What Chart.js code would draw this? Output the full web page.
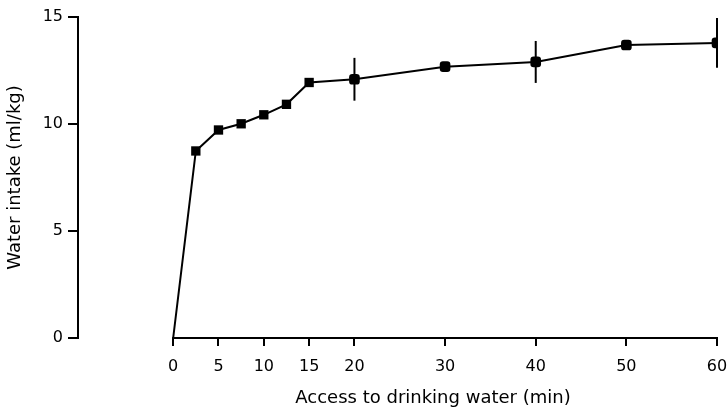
<!DOCTYPE html>
<html><head><meta charset="utf-8">
<script src="https://cdn.jsdelivr.net/npm/chart.js@4"></script>
<style>html,body{margin:0;padding:0;background:#fff}</style>
</head><body>
<canvas id="c" width="728" height="410" style="display:block;width:728px;height:410px"></canvas>
<script>
const accessMin   = [0, 2.5, 5, 7.5, 10, 12.5, 15, 20, 30, 40, 50, 60];
const waterIntake = [0, 8.74, 9.72, 10.01, 10.43, 10.92, 11.94, 12.09, 12.68, 12.9, 13.69, 13.79];
const errorSize   = [0, 0, 0, 0, 0, 0, 0, 1.0, 0, 0.98, 0, 1.16];
const xTickValues = [0, 5, 10, 15, 20, 30, 40, 50, 60];
const yTickValues = [0, 5, 10, 15];
const xTitle = 'Access to drinking water (min)';
const yTitle = 'Water intake (ml/kg)';

const FONT = {family: "'DejaVu Sans', sans-serif", size: 16};
const TITLE_FONT = {family: "'DejaVu Sans', sans-serif", size: 18};

const errorBars = {
  id: 'errorBars',
  afterDatasetsDraw(chart) {
    const {ctx, scales: {x, y}} = chart;
    ctx.save();
    ctx.strokeStyle = '#000';
    ctx.lineWidth = 2;
    errorSize.forEach((e, i) => {
      if (!e) return;
      const px = x.getPixelForValue(accessMin[i]);
      ctx.beginPath();
      ctx.moveTo(px, y.getPixelForValue(waterIntake[i] + e));
      ctx.lineTo(px, y.getPixelForValue(waterIntake[i] - e));
      ctx.stroke();
    });
    ctx.restore();
  }
};

const xAxisLine = {
  id: 'xAxisLine',
  afterDraw(chart) {
    const {ctx, chartArea, scales: {x}} = chart;
    const x0 = x.getPixelForValue(xTickValues[0]);
    const x1 = x.getPixelForValue(xTickValues[xTickValues.length - 1]);
    ctx.save();
    ctx.strokeStyle = '#000';
    ctx.lineWidth = 2;
    ctx.beginPath();
    ctx.moveTo(x0 - 1, chartArea.bottom);
    ctx.lineTo(x1 + 1, chartArea.bottom);
    ctx.stroke();
    ctx.fillStyle = '#000';
    ctx.font = TITLE_FONT.size + 'px ' + TITLE_FONT.family;
    ctx.textAlign = 'center';
    ctx.textBaseline = 'alphabetic';
    ctx.fillText(xTitle, 433, 403);
    ctx.restore();
  }
};

new Chart(document.getElementById('c'), {
  type: 'line',
  data: {
    datasets: [{
      data: accessMin.map((v, i) => ({x: v, y: waterIntake[i]})),
      borderColor: '#000',
      borderWidth: 2,
      tension: 0,
      pointStyle: accessMin.map(v => v <= 15 ? 'rect' : 'rectRounded'),
      pointRadius: accessMin.map(v => v === 0 ? 0 : (v <= 15 ? 6.6 : 6.2)),
      pointBackgroundColor: '#000',
      pointBorderColor: '#000',
      pointBorderWidth: 0
    }]
  },
  options: {
    responsive: false,
    animation: false,
    devicePixelRatio: 1,
    layout: {padding: {top: 17, right: 11, left: 0, bottom: 0}},
    plugins: {legend: {display: false}, tooltip: {enabled: false}},
    scales: {
      x: {
        type: 'linear',
        min: -10.5,
        max: 60,
        afterBuildTicks: s => { s.ticks = xTickValues.map(v => ({value: v})); },
        afterFit: s => { s.height = 72; s.paddingLeft = 0; s.paddingRight = 0; },
        border: {display: false},
        grid: {drawOnChartArea: false, drawTicks: true, tickLength: 8, color: '#000', lineWidth: 2},
        ticks: {color: '#000', font: FONT, padding: 11, maxRotation: 0, autoSkip: false}
      },
      y: {
        type: 'linear',
        min: 0,
        max: 15,
        afterBuildTicks: s => { s.ticks = yTickValues.map(v => ({value: v})); },
        afterFit: s => { s.width = 78; s.paddingTop = 0; s.paddingBottom = 0; },
        border: {display: true, color: '#000', width: 2},
        grid: {drawOnChartArea: false, drawTicks: true, tickLength: 10, color: '#000', lineWidth: 2},
        ticks: {color: '#000', font: FONT, padding: 5},
        title: {display: true, text: yTitle, color: '#000', font: TITLE_FONT, padding: {top: 5, bottom: 0}}
      }
    }
  },
  plugins: [errorBars, xAxisLine]
});
</script>
</body></html>
